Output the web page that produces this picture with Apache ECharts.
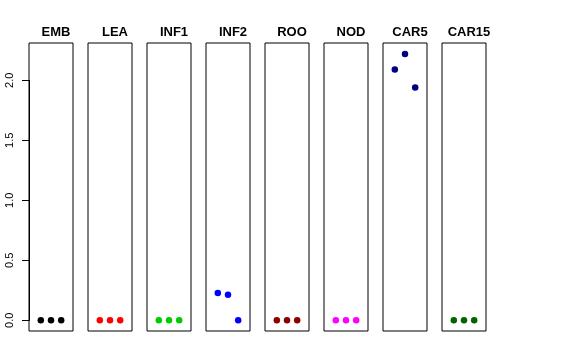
<!DOCTYPE html>
<html>
<head>
<meta charset="utf-8">
<script src="https://cdn.jsdelivr.net/npm/echarts@6/dist/echarts.min.js"></script>
<style>html,body{margin:0;padding:0;background:#fff;}#c{width:576px;height:360px;}</style>
</head>
<body>
<div id="c"></div>
<script>
var panels = ['EMB','LEA','INF1','INF2','ROO','NOD','CAR5','CAR15'];
var colors = ['#000000','#FF0000','#00CD00','#0000FF','#8B0000','#FF00FF','#000080','#006400'];
var xPositions = [1, 2, 3];
var EMB = [0, 0, 0];
var LEA = [0, 0, 0];
var INF1 = [0, 0, 0];
var INF2 = [0.228, 0.214, 0];
var ROO = [0, 0, 0];
var NOD = [0, 0, 0];
var CAR5 = [2.09, 2.22, 1.94];
var CAR15 = [0, 0, 0];
var values = [EMB, LEA, INF1, INF2, ROO, NOD, CAR5, CAR15];
var yTickLabels = ['0.0','0.5','1.0','1.5','2.0'];

var yMaxData = 2.2222;
var yMin = -0.04 * yMaxData, yMax = 1.04 * yMaxData;
var xMin = -0.16, xMax = 4.16;

var left0 = 29, step = 59, pw = 44, gTop = 43, ph = 288;
var grids = [], xAxes = [], yAxes = [], series = [], titles = [];
panels.forEach(function(name, i){
  var l = left0 + step * i;
  grids.push({left: l, top: gTop, width: pw, height: ph, show: true, borderColor: '#000', borderWidth: 1, backgroundColor: 'transparent'});
  xAxes.push({type: 'value', gridIndex: i, min: xMin, max: xMax, show: false});
  yAxes.push({type: 'value', gridIndex: i, min: yMin, max: yMax, show: false});
  series.push({type: 'scatter', xAxisIndex: i, yAxisIndex: i, symbolSize: 6.5,
    itemStyle: {color: colors[i], opacity: 1},
    data: xPositions.map(function(x, k){ return [x, values[i][k]]; })});
  titles.push({text: name, left: l + pw / 2, top: 21, textAlign: 'center',
    textStyle: {fontFamily: 'Liberation Sans', fontWeight: 'bold', fontSize: 13, color: '#000'}});
});
// axis-only grid spanning 0..2.0 for tick marks and labels
var pxPerUnit = ph / (yMax - yMin);
var y0 = gTop + ph - (0 - yMin) * pxPerUnit;
var y2 = gTop + ph - (2 - yMin) * pxPerUnit;
grids.push({left: left0, top: y2, width: pw, height: y0 - y2, show: false});
xAxes.push({type: 'value', gridIndex: 8, min: 0, max: 1, show: false});
yAxes.push({type: 'value', gridIndex: 8, min: 0, max: 2, interval: 0.5, position: 'left',
  axisLine: {show: true, lineStyle: {color: '#000', width: 1}},
  axisTick: {show: true, length: 7, lineStyle: {color: '#000', width: 1}},
  splitLine: {show: false},
  axisLabel: {show: true, rotate: 90, margin: 14, fontFamily: 'Liberation Sans', fontSize: 11, color: '#000',
    formatter: function(v){ return yTickLabels[Math.round(v / 0.5)]; }}});

var chart = echarts.init(document.getElementById('c'), null, {renderer: 'canvas'});
chart.setOption({
  animation: false,
  backgroundColor: '#fff',
  title: titles,
  grid: grids,
  xAxis: xAxes,
  yAxis: yAxes,
  series: series
});
</script>
</body>
</html>
